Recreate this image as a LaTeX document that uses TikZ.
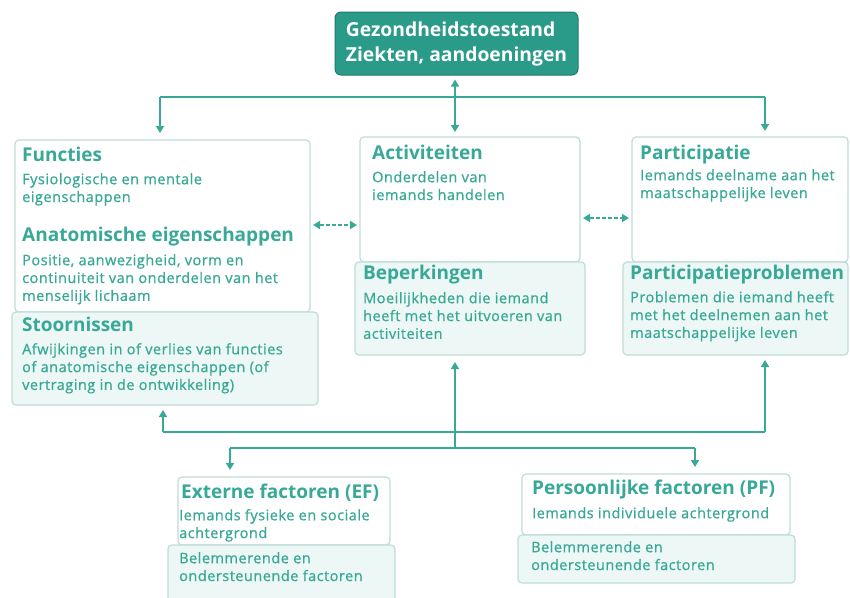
\documentclass[tikz,border=0pt]{standalone}
\usepackage{fontspec}
\setmainfont{Open Sans}
\newfontfamily\bodyfont[LetterSpace=3.5,FakeBold=0.8]{Open Sans}
\usetikzlibrary{arrows.meta}
\definecolor{teal1}{HTML}{38A897}
\definecolor{tealdark}{HTML}{2A9A89}
\definecolor{bordc}{HTML}{BFDCD7}
\definecolor{lightfill}{HTML}{EDF7F5}
\begin{document}
\begin{tikzpicture}[x=1pt,y=1pt,
  box/.style={draw=bordc, line width=1.2pt, rounded corners=4pt, fill=white, anchor=north west, inner sep=0pt, outer sep=0pt},
  fbox/.style={box, fill=lightfill},
  head/.style={anchor=north west, inner sep=0pt, text=teal1, font=\fontsize{19}{22}\selectfont\bfseries},
  body/.style={anchor=north west, inner sep=0pt, text=teal1, align=left, font=\bodyfont\fontsize{14.5}{17.8}\selectfont},
  conn/.style={draw=teal1, line width=1.6pt},
  arr/.style={conn, -{Triangle[width=8pt,length=7pt]}},
  darr/.style={conn, {Triangle[width=8pt,length=7pt]}-{Triangle[width=8pt,length=7pt]}}
]
\useasboundingbox (0,0) rectangle (850,-597);
% boxes
\node[box, minimum width=295, minimum height=172] (func) at (15,-140) {};
\node[fbox, minimum width=306, minimum height=93] (stoor) at (12,-312) {};
\node[box, minimum width=220, minimum height=125] (act) at (360,-137) {};
\node[fbox, minimum width=230, minimum height=93] (bep) at (355,-262) {};
\node[box, minimum width=216, minimum height=125] (part) at (632,-137) {};
\node[fbox, minimum width=225, minimum height=93] (pp) at (623,-262) {};
\node[box, minimum width=212, minimum height=68] (ef) at (178,-477) {};
\node[fbox, minimum width=227, minimum height=60] (efb) at (168,-545) {};
\node[box, minimum width=268, minimum height=61] (pf) at (522,-474) {};
\node[fbox, minimum width=277, minimum height=48] (pfb) at (518,-535) {};
% title
\node[draw=tealdark!80!black, fill=tealdark, line width=1pt, rounded corners=6pt, minimum width=243, minimum height=63, text=white, align=left, font=\fontsize{19.3}{25}\selectfont\bfseries] (title) at (456.5,-43.5) {Gezondheidstoestand\\Ziekten, aandoeningen};
% texts
\node[head] (tfunc) at (22,-147) {Functies};
\node[body] (bfunc) at (22,-173) {Fysiologische en mentale\\eigenschappen};
\node[head] (tanat) at (22,-227) {Anatomische eigenschappen};
\node[body] (banat) at (22,-254) {Positie, aanwezigheid, vorm en\\continuiteit van onderdelen van het\\menselijk lichaam};
\node[head] (tstoor) at (22,-317) {Stoornissen};
\node[body] (bstoor) at (22,-343) {Afwijkingen in of verlies van functies\\of anatomische eigenschappen (of\\vertraging in de ontwikkeling)};
\node[head] (tact) at (372,-145) {Activiteiten};
\node[body] (bact) at (372,-171) {Onderdelen van\\iemands handelen};
\node[head] (tbep) at (363,-265) {Beperkingen};
\node[body] (bbep) at (363,-292) {Moeilijkheden die iemand\\heeft met het uitvoeren van\\activiteiten};
\node[head] (tpart) at (640,-145) {Participatie};
\node[body] (bpart) at (640,-169) {Iemands deelname aan het\\maatschappelijke leven};
\node[head] (tpp) at (630,-265) {Participatieproblemen};
\node[body] (bpp) at (630,-291) {Problemen die iemand heeft\\met het deelnemen aan het\\maatschappelijke leven};
\node[head] (tef) at (181,-484) {Externe factoren (EF)};
\node[body] (bef) at (179,-509) {Iemands fysieke en sociale\\achtergrond};
\node[body] (befb) at (179,-552) {Belemmerende en\\ondersteunende factoren};
\node[head] (tpf) at (532,-480) {Persoonlijke factoren (PF)};
\node[body] (bpf) at (532,-507) {Iemands individuele achtergrond};
\node[body] (bpfb) at (531,-541) {Belemmerende en\\ondersteunende factoren};
% connectors
\coordinate (cx) at (455,0);
\coordinate (busL) at (160,-97);
\coordinate (busR) at (765,-97);
\draw[darr, shorten <=4pt, shorten >=5pt] (title.south -| cx) -- (act.north -| cx);
\draw[conn] (busL) -- (busR);
\draw[arr, shorten >=7pt] (busL) -- (busL |- func.north);
\draw[arr, shorten >=6pt] (busR) -- (busR |- part.north);
\draw[darr, dash pattern=on 4pt off 2pt, shorten <=3pt, shorten >=3pt] (func.east |- 0,-225) -- (act.west |- 0,-225);
\draw[darr, dash pattern=on 4pt off 2pt, shorten <=3pt, shorten >=3pt] (act.east |- 0,-218) -- (part.west |- 0,-218);
\coordinate (ubL) at (163,-432);
\coordinate (ubR) at (765,-432);
\coordinate (lbL) at (230,-448);
\coordinate (lbR) at (695,-448);
\coordinate (lbC) at (455,-448);
\draw[conn] (ubL) -- (ubR);
\draw[arr, shorten >=5pt] (ubL) -- (ubL |- stoor.south);
\draw[arr, shorten >=5pt] (ubR) -- (ubR |- pp.south);
\draw[conn] (lbL) -- (lbR);
\draw[arr, shorten >=7pt] (lbC) -- (lbC |- bep.south);
\draw[arr, shorten >=7pt] (lbL) -- (lbL |- ef.north);
\draw[arr, shorten >=7pt] (lbR) -- (lbR |- pf.north);
\end{tikzpicture}
\end{document}
